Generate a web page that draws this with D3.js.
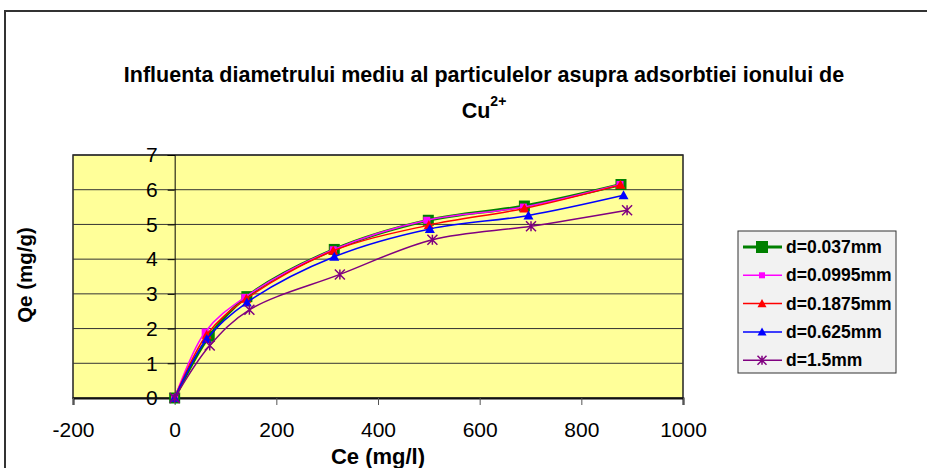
<!DOCTYPE html>
<html>
<head>
<meta charset="utf-8">
<script src="https://cdn.jsdelivr.net/npm/d3@7"></script>
<style>
  body { margin: 0; background: #fff; }
  text { font-family: "Liberation Sans", Arial, sans-serif; }
</style>
</head>
<body>
<div id="svg_chart"></div>
<script>
///////////// data //////////////
var series_names = ['d=0.037mm', 'd=0.0995mm', 'd=0.1875mm', 'd=0.625mm', 'd=1.5mm'];
var ce_037  = [0, 68, 142, 314, 499, 688, 878];
var qe_037  = [0, 1.78, 2.92, 4.28, 5.12, 5.53, 6.15];
var ce_0995 = [0, 60, 138, 312, 496, 686, 876];
var qe_0995 = [0, 1.90, 2.90, 4.27, 5.12, 5.50, 6.15];
var ce_1875 = [0, 63, 141, 312, 500, 688, 877];
var qe_1875 = [0, 1.82, 2.86, 4.24, 4.98, 5.46, 6.14];
var ce_625  = [0, 63, 142, 314, 502, 696, 883];
var qe_625  = [0, 1.70, 2.75, 4.07, 4.87, 5.26, 5.84];
var ce_15   = [0, 69, 147, 325, 507, 701, 890];
var qe_15   = [0, 1.51, 2.54, 3.56, 4.56, 4.95, 5.41];
var x_ticks = [-200, 0, 200, 400, 600, 800, 1000];
var y_ticks = [0, 1, 2, 3, 4, 5, 6, 7];

var all_ce = [ce_037, ce_0995, ce_1875, ce_625, ce_15];
var all_qe = [qe_037, qe_0995, qe_1875, qe_625, qe_15];

///////////// layout //////////////
const svg_width = 927, svg_height = 468;
const plot_left = 73, plot_right = 683, plot_top = 155, plot_bottom = 398;

var styles = [
  {color: '#008000', width: 3,   marker: 'square',   size: 11},
  {color: '#FF00FF', width: 1.5, marker: 'square',   size: 7},
  {color: '#FF0000', width: 1.5, marker: 'triangle', size: 10},
  {color: '#0000FF', width: 1.5, marker: 'triangle', size: 10},
  {color: '#800080', width: 1.5, marker: 'star',     size: 10}
];

var svg = d3.select('#svg_chart').append('svg')
  .attr('width', svg_width)
  .attr('height', svg_height);

// chart border
svg.append('rect')
  .attr('x', 5).attr('y', 11)
  .attr('width', 1000).attr('height', 600)
  .attr('fill', '#fff')
  .attr('stroke', '#333')
  .attr('stroke-width', 2);

// title
svg.append('text')
  .attr('x', 484).attr('y', 82)
  .attr('text-anchor', 'middle')
  .attr('font-size', 21.5).attr('font-weight', 'bold')
  .text('Influenta diametrului mediu al particulelor asupra adsorbtiei ionului de');
var title2 = svg.append('text')
  .attr('x', 484).attr('y', 118)
  .attr('text-anchor', 'middle')
  .attr('font-size', 21.5).attr('font-weight', 'bold');
title2.append('tspan').text('Cu');
title2.append('tspan').attr('font-size', 14).attr('dy', -12).text('2+');

// scales
var x = d3.scaleLinear().domain([-200, 1000]).range([plot_left, plot_right]);
var y = d3.scaleLinear().domain([0, 7]).range([plot_bottom, plot_top]);

// plot area
svg.append('rect')
  .attr('x', plot_left).attr('y', plot_top)
  .attr('width', plot_right - plot_left).attr('height', plot_bottom - plot_top)
  .attr('fill', '#FFFF99')
  .attr('stroke', '#222')
  .attr('stroke-width', 1.5);

// gridlines
svg.append('g').selectAll('line').data(y_ticks.slice(1)).enter().append('line')
  .attr('x1', plot_left).attr('x2', plot_right)
  .attr('y1', d => y(d)).attr('y2', d => y(d))
  .attr('stroke', '#333').attr('stroke-width', 1);

// y axis at x = 0
var yAxis = d3.axisLeft(y).tickValues(y_ticks).tickSize(7).tickPadding(10)
  .tickFormat(d => String(d));
var gy = svg.append('g')
  .attr('transform', `translate(${x(0)},0)`)
  .call(yAxis);
gy.select('.domain').attr('stroke', '#000');
gy.selectAll('.tick line').attr('stroke', '#000');
gy.selectAll('.tick text')
  .attr('font-size', 21).attr('fill', '#000')
  .style('font-family', '"Liberation Sans", Arial, sans-serif');

// x axis
var xAxis = d3.axisBottom(x).tickValues(x_ticks).tickSize(7).tickPadding(17)
  .tickFormat(d => String(d));
var gx = svg.append('g')
  .attr('transform', `translate(0,${plot_bottom})`)
  .call(xAxis);
gx.select('.domain').attr('stroke', '#111').attr('stroke-width', 2);
gx.selectAll('.tick line').attr('stroke', '#555');
gx.selectAll('.tick text')
  .attr('font-size', 21).attr('fill', '#000')
  .style('font-family', '"Liberation Sans", Arial, sans-serif');

// axis titles
svg.append('text')
  .attr('x', 378).attr('y', 464)
  .attr('text-anchor', 'middle')
  .attr('font-size', 22).attr('font-weight', 'bold')
  .text('Ce (mg/l)');
svg.append('text')
  .attr('transform', 'translate(32,275) rotate(-90)')
  .attr('text-anchor', 'middle')
  .attr('font-size', 20.5).attr('font-weight', 'bold')
  .text('Qe (mg/g)');

// marker drawing
function draw_marker(g, kind, size, color) {
  var h = size / 2;
  if (kind === 'square') {
    g.append('rect')
      .attr('x', -h).attr('y', -h).attr('width', size).attr('height', size)
      .attr('fill', color);
  } else if (kind === 'triangle') {
    g.append('path')
      .attr('d', `M0,${-h}L${h},${h * 0.8}L${-h},${h * 0.8}Z`)
      .attr('fill', color);
  } else {
    g.append('path')
      .attr('d', `M${-h},${-h}L${h},${h}M${-h},${h}L${h},${-h}M0,${-h}L0,${h}`)
      .attr('stroke', color).attr('stroke-width', 1.5).attr('fill', 'none');
  }
}

var line = d3.line()
  .x(d => x(d[0]))
  .y(d => y(d[1]))
  .curve(d3.curveCatmullRom.alpha(0.5));

var plot_group = svg.append('g');
all_ce.forEach(function(ce, i) {
  var pts = ce.map((c, j) => [c, all_qe[i][j]]);
  var st = styles[i];
  var g = plot_group.append('g');
  g.append('path')
    .datum(pts)
    .attr('d', line)
    .attr('fill', 'none')
    .attr('stroke', st.color)
    .attr('stroke-width', st.width);
  g.selectAll('g.mk').data(pts).enter().append('g')
    .attr('class', 'mk')
    .attr('transform', d => `translate(${x(d[0])},${y(d[1])})`)
    .each(function() { draw_marker(d3.select(this), st.marker, st.size, st.color); });
});

// legend
var legend = svg.append('g');
legend.append('rect')
  .attr('x', 738).attr('y', 231)
  .attr('width', 158).attr('height', 142)
  .attr('fill', '#F2F2F2')
  .attr('stroke', '#333').attr('stroke-width', 1);

series_names.forEach(function(name, i) {
  var st = styles[i];
  var ly = 247 + i * 28.3;
  var row = legend.append('g').attr('transform', `translate(0,${ly})`);
  row.append('line')
    .attr('x1', 743).attr('x2', 782)
    .attr('stroke', st.color).attr('stroke-width', st.width);
  var mk = row.append('g').attr('transform', 'translate(762,0)');
  draw_marker(mk, st.marker, st.marker === 'square' && i === 0 ? 12 : st.size - 1, st.color);
  row.append('text')
    .attr('x', 786).attr('y', 6)
    .attr('font-size', 17.5).attr('font-weight', 'bold')
    .text(name);
});
</script>
</body>
</html>
